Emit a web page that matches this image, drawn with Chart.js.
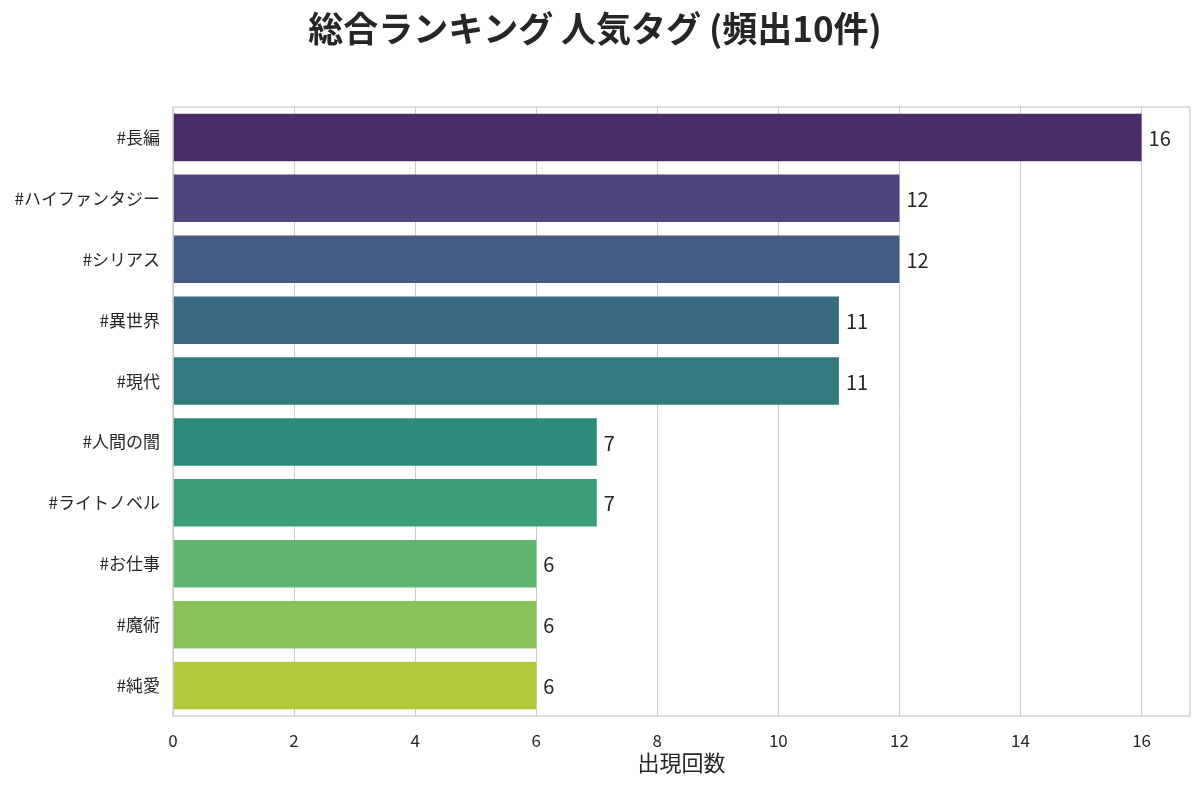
<!DOCTYPE html>
<html>
<head>
<meta charset="utf-8">
<script src="https://cdn.jsdelivr.net/npm/chart.js@4.4.1/dist/chart.umd.min.js"></script>
<style>
html,body{margin:0;padding:0;background:#fff;}
#wrap{width:1200px;height:785px;position:relative;}
</style>
</head>
<body>
<div id="wrap"><canvas id="c"></canvas></div>
<script>
const categories = ["#長編","#ハイファンタジー","#シリアス","#異世界","#現代","#人間の闇","#ライトノベル","#お仕事","#魔術","#純愛"];
const counts = [16,12,12,11,11,7,7,6,6,6];
const barColors = ["#4a2c67","#4d4680","#445b83","#3a6b82","#317b7f","#2e8b7a","#3b9e77","#60b66e","#89c15a","#b2c93c"];
const xTicks = [0,2,4,6,8,10,12,14,16];
const titleText = "総合ランキング 人気タグ (頻出10件)";
const xTitle = "出現回数";

const FONT = "'Noto Sans CJK JP', 'Noto Sans', sans-serif";
const TEXT = "#262626";
const GRID = "#cccccc";

const framePlugin = {
  id: 'frame',
  afterDraw(chart) {
    const {ctx, chartArea: a} = chart;
    ctx.save();
    ctx.strokeStyle = GRID;
    ctx.lineWidth = 1.25;
    ctx.strokeRect(a.left, a.top, a.right - a.left, a.bottom - a.top);
    ctx.restore();
  }
};

const valueLabels = {
  id: 'valueLabels',
  afterDatasetsDraw(chart) {
    const {ctx} = chart;
    const meta = chart.getDatasetMeta(0);
    ctx.save();
    ctx.font = "20px " + FONT;
    ctx.fillStyle = TEXT;
    ctx.textAlign = 'left';
    ctx.textBaseline = 'middle';
    meta.data.forEach((bar, i) => {
      ctx.fillText(String(counts[i]), bar.x + 7, bar.y + 1);
    });
    ctx.restore();
  }
};

new Chart(document.getElementById('c'), {
  type: 'bar',
  data: {
    labels: categories,
    datasets: [{
      data: counts,
      backgroundColor: barColors,
      borderWidth: 0,
      barPercentage: 0.78,
      categoryPercentage: 1.0
    }]
  },
  options: {
    indexAxis: 'y',
    responsive: true,
    maintainAspectRatio: false,
    animation: false,
    layout: { padding: { left: 0, right: 10, top: 0, bottom: 0 } },
    plugins: {
      legend: { display: false },
      tooltip: { enabled: false },
      title: {
        display: true,
        text: titleText,
        color: TEXT,
        font: { family: FONT, size: 35, weight: 'bold', lineHeight: 1.2 },
        padding: { top: 8, bottom: 57 }
      }
    },
    scales: {
      x: {
        type: 'linear',
        min: 0,
        max: 16.8,
        afterBuildTicks(scale) {
          scale.ticks = xTicks.map(v => ({ value: v }));
        },
        afterFit(scale) { scale.height = 69; },
        grid: { color: GRID, lineWidth: 1, drawTicks: false },
        border: { display: false },
        ticks: {
          color: TEXT,
          font: { family: FONT, size: 17 },
          padding: 14
        },
        title: {
          display: true,
          text: xTitle,
          color: TEXT,
          font: { family: FONT, size: 22 },
          padding: { top: 0, bottom: 9 }
        }
      },
      y: {
        type: 'category',
        afterFit(scale) { scale.width = 173; },
        grid: { display: false, drawTicks: false },
        border: { display: false },
        ticks: {
          color: TEXT,
          font: { family: FONT, size: 17 },
          padding: 13
        }
      }
    }
  },
  plugins: [framePlugin, valueLabels]
});
</script>
</body>
</html>
